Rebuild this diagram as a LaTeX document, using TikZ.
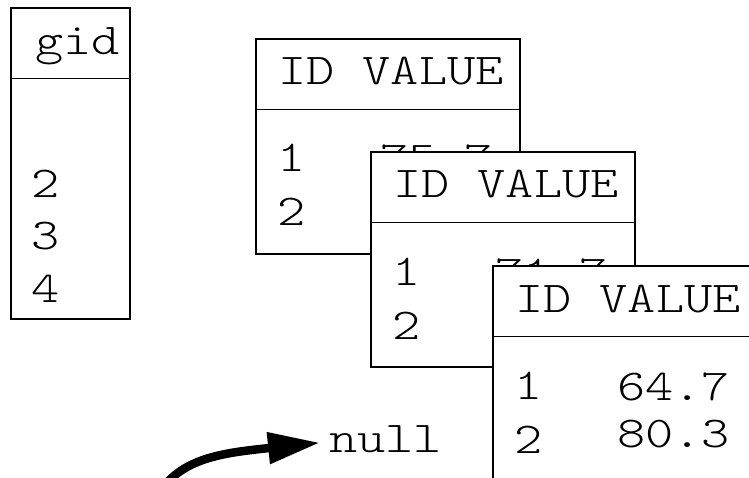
\documentclass[tikz,border=0pt]{standalone}
\usepackage{fontspec}
\newfontfamily\tabfont{lmmonolt10-regular.otf}[FakeStretch=1.22]
\usetikzlibrary{arrows.meta}

% one ID/VALUE table: name, left, top, first value, second value
\newcommand\datatable[5]{%
  \begin{scope}[shift={(#2,#3)}]
    \node[tabbox] (#1) at (0,0) {};
    \draw[rule] ([yshift=-71.5pt]#1.north west) -- ([yshift=-71.5pt]#1.north east);
    \node[cell] (#1-head) at (23,47) {ID VALUE};
    \node[cell] (#1-id1) at (22,134) {1};
    \node[cell] (#1-id2) at (22,188) {2};
    \node[cell] (#1-v1) at (125,135) {#4};
    \node[cell] (#1-v2) at (125,182) {#5};
  \end{scope}}

\begin{document}
\begin{tikzpicture}[x=1pt,y=-1pt,
  tabbox/.style={draw, line width=2pt, fill=white, anchor=north west,
    inner sep=0pt, minimum width=264pt, minimum height=215pt},
  cell/.style={anchor=base west, inner sep=0pt,
    font=\tabfont\fontsize{44}{48}\selectfont},
  rule/.style={line width=1pt},
  pointer/.style={line width=8.5pt, -{Triangle[length=52pt,width=30pt]}}]
\useasboundingbox (0,0) rectangle (749,478);
\clip (0,0) rectangle (749,478);

% group ids
\node[tabbox, minimum width=119pt, minimum height=311pt] (gidbox) at (10,7) {};
\draw[rule] ([yshift=-72pt]gidbox.north west) -- ([yshift=-72pt]gidbox.north east);
\node[cell] (gidhead) at (35,55) {gid};
\node[cell] (gid2) at (31,198) {2};
\node[cell] (gid3) at (31,250) {3};
\node[cell] (gid4) at (31,302) {4};

% stacked value tables, each one covering the previous
\datatable{tabA}{255}{38}{75.7}{}
\datatable{tabB}{370}{151}{71.7}{}
\datatable{tabC}{492}{265}{64.7}{80.3}

% pointer to null
\node[cell] (nul) at (329,452) {null};
\coordinate (tail) at (158,495);
\draw[pointer] (tail) .. controls (180,458) and (222,453) .. ([xshift=-9pt,yshift=-4pt]nul.west);
\end{tikzpicture}
\end{document}
